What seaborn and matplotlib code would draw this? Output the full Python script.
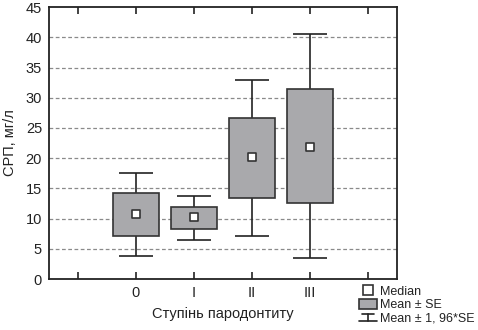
import numpy as np
import pandas as pd
import matplotlib
matplotlib.use("Agg")
import matplotlib.pyplot as plt
import seaborn as sns
from matplotlib.legend_handler import HandlerBase
from matplotlib.lines import Line2D
from matplotlib.patches import Rectangle

# ---- data ----
groups = ["0", "I", "II", "III"]
means = [10.7, 10.15, 20.0, 21.95]
se = [3.5, 1.85, 6.6, 9.45]
medians = [10.8, 10.3, 20.2, 21.9]
tick_labels = ["", "0", "I", "II", "III", ""]

sns.set_theme(style="white")
plt.rcParams['font.family'] = ['Liberation Sans', 'DejaVu Sans']

fig = plt.figure(figsize=(4.78, 3.30), dpi=100)
ax = fig.add_axes([0.1025, 0.1545, 0.728, 0.824])

df = pd.DataFrame({"group": groups, "mean": means, "se": se, "median": medians})
df["x"] = np.arange(len(groups))
df["lo"] = df["mean"] - df["se"]
df["hi"] = df["mean"] + df["se"]

# whiskers (mean ± 1.96*SE)
ax.errorbar(df["x"], df["mean"], yerr=1.96 * df["se"], fmt="none",
            ecolor="#222222", elinewidth=1.2, capsize=12, capthick=1.2, zorder=2)
# boxes (mean ± SE)
ax.bar(df["x"], df["hi"] - df["lo"], bottom=df["lo"], width=0.8,
       color="#a9a9ac", edgecolor="#333333", linewidth=1.2, zorder=3)
# medians
sns.scatterplot(data=df, x="x", y="median", marker="s", s=40, color="white",
                edgecolor="#333333", linewidth=1.2, zorder=4, ax=ax, legend=False)

ax.set_xlim(-1.5, 4.5)
ax.set_ylim(0, 45)
ax.set_xticks(np.arange(-1, 5))
ax.set_xticklabels(tick_labels)
ax.set_yticks(np.arange(0, 46, 5))
for y in range(5, 45, 5):
    ax.axhline(y, color="#8a8a8a", lw=0.9, ls=(0, (3, 2)), zorder=1)

ax.tick_params(axis="x", direction="in", length=5, width=1.2, top=True, bottom=True,
               labelsize=10.5, pad=5, colors="#222222")
ax.tick_params(axis="y", length=0, labelsize=10.5, pad=5, colors="#222222")
for s in ax.spines.values():
    s.set_color("#222222")
    s.set_linewidth(1.3)

ax.set_xlabel("Ступінь пародонтиту", fontsize=10.5, color="#222222", labelpad=5)
ax.set_ylabel("СРП, мг/л", fontsize=10.5, color="#222222", labelpad=6)


class WhiskerHandler(HandlerBase):
    def create_artists(self, legend, orig_handle, xdescent, ydescent, width, height, fontsize, trans):
        cx = width / 2 - xdescent
        top = height * 0.85
        bot = height * 0.05
        l1 = Line2D([cx - width * 0.3, cx + width * 0.3], [top, top], color="#222222", lw=1.2, transform=trans)
        l2 = Line2D([cx, cx], [top, bot], color="#222222", lw=1.2, transform=trans)
        l3 = Line2D([cx - width * 0.5, cx + width * 0.5], [bot, bot], color="#222222", lw=1.2, transform=trans)
        return [l1, l2, l3]


class WhiskerProxy:
    pass


h_med = Line2D([], [], marker="s", ls="none", markersize=7, markerfacecolor="white",
               markeredgecolor="#333333", markeredgewidth=1.2)
h_box = Rectangle((0, 0), 1, 1, facecolor="#a9a9ac", edgecolor="#333333", lw=1.2)
h_wh = WhiskerProxy()
fig.legend([h_med, h_box, h_wh], ["Median", "Mean ± SE", "Mean ± 1, 96*SE"],
           handler_map={WhiskerProxy: WhiskerHandler()},
           loc="upper left", bbox_to_anchor=(0.737, 0.153), frameon=False,
           fontsize=9, handlelength=1.5, handleheight=0.8, handletextpad=0.25,
           labelspacing=0.1, borderpad=0, labelcolor="#222222")

fig.savefig("out.png", dpi=100)
